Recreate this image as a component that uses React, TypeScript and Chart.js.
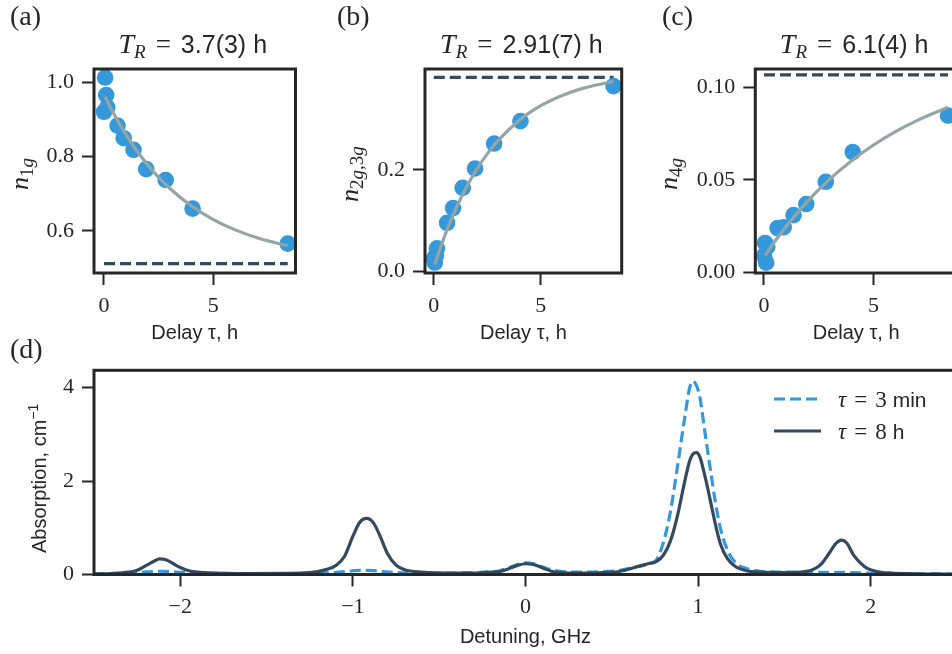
import React, { useEffect, useRef } from 'react';
import { Chart, registerables } from 'chart.js';

Chart.register(...registerables);

// ---------- colours & fonts ----------
const BLUE = '#3498db';
const DARK = '#34495e';
const GRAY = '#95a5a6';
const INK = '#262626';
const SERIF = '"Liberation Serif", "DejaVu Serif", serif';
const SANS = '"Liberation Sans", "DejaVu Sans", sans-serif';

// ---------- data: panels (a)-(c) ----------
const DELAY_H = [0.0, 0.05, 0.1, 0.15, 0.62, 0.9, 1.35, 1.93, 2.82, 4.05, 8.4];
const N_1G = [0.92, 1.012, 0.965, 0.932, 0.883, 0.849, 0.818, 0.766, 0.737, 0.66, 0.566];
const N_2G3G = [0.025, 0.018, 0.032, 0.046, 0.096, 0.125, 0.165, 0.203, 0.252, 0.296, 0.365];
const N_4G = [0.009, 0.016, 0.0054, 0.014, 0.024, 0.0245, 0.031, 0.037, 0.049, 0.065, 0.0847];

const FIT_DELAY_H = [0.05, 0.5, 1, 1.5, 2, 2.5, 3, 4, 5, 6, 7, 8.4];
const FIT_N_1G = [0.9605, 0.9093, 0.8592, 0.8155, 0.7773, 0.7439, 0.7147, 0.667, 0.6306, 0.6028, 0.5816, 0.56];
const FIT_N_2G3G = [0.0146, 0.0693, 0.1208, 0.1642, 0.2009, 0.2316, 0.2576, 0.2979, 0.3264, 0.3466, 0.361, 0.3744];
const FIT_N_4G = [0.0093, 0.0169, 0.0247, 0.0319, 0.0386, 0.0447, 0.0504, 0.0603, 0.0688, 0.076, 0.0821, 0.0892];

const EQ_DELAY_H = [0, 8.4];
const EQ_N_1G = [0.512, 0.512];
const EQ_N_2G3G = [0.382, 0.382];
const EQ_N_4G = [0.1066, 0.1066];

const TR_TEXT = ['3.7(3) h', '2.91(7) h', '6.1(4) h'];

// ---------- data: panel (d) ----------
const DETUNING_GHZ = [
  -2.5, -2.4, -2.3, -2.25, -2.2, -2.15, -2.12, -2.08, -2.04, -2.0, -1.95, -1.9, -1.8, -1.6, -1.4, -1.25,
  -1.15, -1.1, -1.05, -1.0, -0.96, -0.92, -0.88, -0.84, -0.8, -0.75, -0.7, -0.6, -0.45, -0.3, -0.2, -0.15,
  -0.1, -0.05, 0.0, 0.05, 0.1, 0.15, 0.2, 0.3, 0.45, 0.55, 0.65, 0.72, 0.76, 0.8, 0.84, 0.88, 0.92, 0.95,
  0.97, 0.99, 1.01, 1.04, 1.07, 1.1, 1.13, 1.17, 1.22, 1.28, 1.36, 1.5, 1.62, 1.68, 1.72, 1.76, 1.8, 1.83,
  1.86, 1.9, 1.94, 1.98, 2.04, 2.12, 2.25, 2.5,
];
const ABS_3MIN = [
  0.01, 0.015, 0.03, 0.04, 0.055, 0.065, 0.07, 0.065, 0.055, 0.045, 0.035, 0.03, 0.025, 0.02, 0.02, 0.025,
  0.035, 0.045, 0.06, 0.08, 0.09, 0.09, 0.085, 0.07, 0.055, 0.04, 0.035, 0.03, 0.03, 0.04, 0.06, 0.08,
  0.14, 0.21, 0.25, 0.23, 0.16, 0.1, 0.07, 0.05, 0.06, 0.09, 0.17, 0.23, 0.32, 0.7, 1.35, 2.3, 3.3, 3.98,
  4.14, 4.05, 3.8, 3.03, 2.28, 1.55, 0.98, 0.52, 0.24, 0.13, 0.07, 0.05, 0.045, 0.045, 0.045, 0.045, 0.045, 0.045,
  0.045, 0.04, 0.035, 0.03, 0.025, 0.02, 0.015, 0.01,
];
const ABS_8H = [
  0.01, 0.02, 0.05, 0.09, 0.19, 0.29, 0.335, 0.31, 0.23, 0.15, 0.08, 0.05, 0.03, 0.02, 0.025, 0.04,
  0.11, 0.19, 0.38, 0.82, 1.12, 1.2, 1.1, 0.8, 0.45, 0.2, 0.1, 0.05, 0.03, 0.03, 0.05, 0.06,
  0.12, 0.19, 0.23, 0.21, 0.14, 0.07, 0.04, 0.03, 0.04, 0.07, 0.17, 0.24, 0.28, 0.42, 0.72, 1.25, 1.95, 2.42,
  2.58, 2.61, 2.52, 2.1, 1.6, 1.08, 0.65, 0.34, 0.16, 0.08, 0.05, 0.04, 0.06, 0.13, 0.25, 0.46, 0.67, 0.735,
  0.68, 0.42, 0.25, 0.13, 0.06, 0.03, 0.015, 0.005,
];
const LEGEND_LABELS = ['3 min', '8 h'];

// ---------- ticks ----------
const DELAY_TICKS = [0, 5];
const DELAY_TICK_LABELS = ['0', '5'];
const N_1G_TICKS = [0.6, 0.8, 1.0];
const N_1G_TICK_LABELS = ['0.6', '0.8', '1.0'];
const N_2G3G_TICKS = [0, 0.2];
const N_2G3G_TICK_LABELS = ['0.0', '0.2'];
const N_4G_TICKS = [0, 0.05, 0.1];
const N_4G_TICK_LABELS = ['0.00', '0.05', '0.10'];
const DET_TICKS = [-2, -1, 0, 1, 2];
const DET_TICK_LABELS = ['\u22122', '\u22121', '0', '1', '2'];
const ABS_TICKS = [0, 2, 4];
const ABS_TICK_LABELS = ['0', '2', '4'];

// ---------- layout (page px) ----------
// canvas: [left, top, width, height]; frame: [left, top, right, bottom]
const CANVAS_A = [0, 0, 310, 350];
const FRAME_A = [94, 69, 295.5, 273];
const CANVAS_B = [310, 0, 320, 350];
const FRAME_B = [425, 69, 626, 273];
const CANVAS_C = [630, 0, 340, 350];
const FRAME_C = [755.3, 69, 957, 273];
const CANVAS_D = [0, 330, 980, 340];
const FRAME_D = [94, 370.3, 957, 574.5];

type Seg = { t: string; font: string; dx?: number; dy?: number };

function drawSegs(ctx: CanvasRenderingContext2D, segs: Seg[], x: number, y: number, align: 'left' | 'center', rot = 0) {
  ctx.save();
  ctx.translate(x, y);
  if (rot) ctx.rotate(rot);
  ctx.textBaseline = 'alphabetic';
  ctx.textAlign = 'left';
  ctx.fillStyle = INK;
  const widths = segs.map((s) => {
    ctx.font = s.font;
    return ctx.measureText(s.t).width + (s.dx || 0);
  });
  const total = widths.reduce((p, q) => p + q, 0);
  let cx = align === 'center' ? -total / 2 : 0;
  segs.forEach((s, i) => {
    ctx.font = s.font;
    ctx.fillText(s.t, cx + (s.dx || 0), s.dy || 0);
    cx += widths[i];
  });
  ctx.restore();
}

const frame = {
  id: 'frame',
  afterDatasetsDraw(chart: any) {
    const { ctx, chartArea: a } = chart;
    ctx.save();
    ctx.strokeStyle = INK;
    ctx.lineWidth = 3;
    ctx.strokeRect(a.left, a.top, a.right - a.left, a.bottom - a.top);
    ctx.restore();
  },
};

function tickScale(
  min: number, max: number, ticks: number[], labels: string[], fitKey: 'width' | 'height', fitSize: number,
  title?: string, titlePadBottom = 5,
) {
  return {
    type: 'linear',
    min,
    max,
    afterBuildTicks: (s: any) => {
      s.ticks = ticks.map((v) => ({ value: v }));
    },
    afterFit: (s: any) => {
      s[fitKey] = fitSize;
    },
    ticks: {
      autoSkip: false,
      maxRotation: 0,
      minRotation: 0,
      padding: 8,
      color: INK,
      font: { family: SERIF, size: 22 },
      callback: (_v: any, i: number) => labels[i],
    },
    grid: { display: true, drawOnChartArea: false, drawTicks: true, tickLength: 12, tickWidth: 2, tickColor: INK },
    border: { display: false },
    title: title
      ? { display: true, text: title, color: INK, font: { family: SANS, size: 20 }, padding: { top: 0, bottom: titlePadBottom } }
      : { display: false },
  };
}

function baseOptions(canvasBox: number[], frameBox: number[]) {
  return {
    animation: false,
    responsive: false,
    devicePixelRatio: 1,
    events: [],
    layout: {
      padding: {
        left: 0,
        top: frameBox[1] - canvasBox[1],
        right: canvasBox[0] + canvasBox[2] - frameBox[2],
        bottom: 0,
      },
    },
    plugins: { legend: { display: false }, tooltip: { enabled: false }, title: { display: false } },
  };
}

function trTitle(value: string): Seg[] {
  return [
    { t: 'T', font: `italic 28px ${SERIF}` },
    { t: 'R', font: `italic 19px ${SERIF}`, dy: 5 },
    { t: '=', font: `27px ${SERIF}`, dx: 10 },
    { t: value, font: `25px ${SANS}`, dx: 10 },
  ];
}

function smallPanel(
  canvas: HTMLCanvasElement,
  spec: {
    canvasBox: number[]; frameBox: number[]; panel: string; panelX: number; tr: string;
    yLabel: Seg[]; yLabelOffset: number; xMin: number; xMax: number; yMin: number; yMax: number;
    yTicks: number[]; yTickLabels: string[]; values: number[]; fit: number[]; eq: number[];
  },
) {
  const cb = spec.canvasBox;
  const fb = spec.frameBox;
  const annot = {
    id: 'annot',
    afterDraw(chart: any) {
      const { ctx, chartArea: a } = chart;
      drawSegs(ctx, [{ t: spec.panel, font: `28px ${SERIF}` }], spec.panelX, 25, 'left');
      drawSegs(ctx, trTitle(spec.tr), (a.left + a.right) / 2 - 2, a.top - 16, 'center');
      drawSegs(ctx, spec.yLabel, a.left - spec.yLabelOffset, (a.top + a.bottom) / 2 + 3, 'center', -Math.PI / 2);
    },
  };
  return new Chart(canvas, {
    type: 'scatter',
    data: {
      datasets: [
        {
          type: 'line',
          data: FIT_DELAY_H.map((x, i) => ({ x, y: spec.fit[i] })),
          borderColor: GRAY,
          borderWidth: 3.2,
          pointRadius: 0,
          cubicInterpolationMode: 'monotone',
          fill: false,
          order: 0,
        },
        {
          type: 'scatter',
          data: DELAY_H.map((x, i) => ({ x, y: spec.values[i] })),
          pointBackgroundColor: BLUE,
          pointBorderColor: BLUE,
          pointBorderWidth: 0,
          pointRadius: 8.3,
          clip: false,
          order: 1,
        },
        {
          type: 'line',
          data: EQ_DELAY_H.map((x, i) => ({ x, y: spec.eq[i] })),
          borderColor: DARK,
          borderWidth: 3.2,
          borderDash: [11, 5],
          pointRadius: 0,
          fill: false,
          order: 2,
        },
      ],
    } as any,
    options: {
      ...baseOptions(cb, fb),
      scales: {
        x: tickScale(spec.xMin, spec.xMax, DELAY_TICKS, DELAY_TICK_LABELS, 'height', cb[1] + cb[3] - fb[3], 'Delay \u03c4, h', 5),
        y: tickScale(spec.yMin, spec.yMax, spec.yTicks, spec.yTickLabels, 'width', fb[0] - cb[0]),
      },
    } as any,
    plugins: [frame, annot],
  });
}

function spectrumPanel(canvas: HTMLCanvasElement) {
  const cb = CANVAS_D;
  const fb = FRAME_D;
  const annot = {
    id: 'annot',
    afterDraw(chart: any) {
      const { ctx, chartArea: a } = chart;
      drawSegs(ctx, [{ t: '(d)', font: `28px ${SERIF}` }], 10, 28, 'left');
      drawSegs(
        ctx,
        [
          { t: 'Absorption, cm', font: `20px ${SANS}` },
          { t: '\u22121', font: `14px ${SANS}`, dy: -8 },
        ],
        a.left - 48,
        (a.top + a.bottom) / 2 + 6,
        'center',
        -Math.PI / 2,
      );
      const rows = [
        { dash: [11, 5], color: BLUE, label: LEGEND_LABELS[0], dy: 28.7 },
        { dash: [], color: DARK, label: LEGEND_LABELS[1], dy: 60.7 },
      ];
      rows.forEach((r) => {
        const y = a.top + r.dy;
        ctx.save();
        ctx.strokeStyle = r.color;
        ctx.lineWidth = 3.2;
        ctx.setLineDash(r.dash);
        ctx.beginPath();
        ctx.moveTo(a.right - 183, y);
        ctx.lineTo(a.right - 136, y);
        ctx.stroke();
        ctx.restore();
        const [num, unit] = r.label.split(' ');
        drawSegs(
          ctx,
          [
            { t: '\u03c4', font: `italic 23px ${SERIF}` },
            { t: '=', font: `23px ${SERIF}`, dx: 8 },
            { t: num, font: `23px ${SERIF}`, dx: 8 },
            { t: unit, font: `21px ${SANS}`, dx: 6 },
          ],
          a.right - 119,
          y + 8,
          'left',
        );
      });
    },
  };
  return new Chart(canvas, {
    type: 'line',
    data: {
      datasets: [
        {
          label: '\u03c4 = 8 h',
          data: DETUNING_GHZ.map((x, i) => ({ x, y: ABS_8H[i] })),
          borderColor: DARK,
          borderWidth: 3.2,
          pointRadius: 0,
          cubicInterpolationMode: 'monotone',
          fill: false,
          order: 0,
        },
        {
          label: '\u03c4 = 3 min',
          data: DETUNING_GHZ.map((x, i) => ({ x, y: ABS_3MIN[i] })),
          borderColor: BLUE,
          borderWidth: 3.2,
          borderDash: [11, 5],
          pointRadius: 0,
          cubicInterpolationMode: 'monotone',
          fill: false,
          order: 1,
        },
      ],
    } as any,
    options: {
      ...baseOptions(cb, fb),
      scales: {
        x: tickScale(-2.5, 2.5, DET_TICKS, DET_TICK_LABELS, 'height', cb[1] + cb[3] - fb[3], 'Detuning, GHz', 21),
        y: tickScale(0, 4.373, ABS_TICKS, ABS_TICK_LABELS, 'width', fb[0] - cb[0]),
      },
    } as any,
    plugins: [frame, annot],
  });
}

const nLabel = (sub: Seg[]): Seg[] => [{ t: 'n', font: `italic 26px ${SERIF}` }, ...sub];
const subFont = (italic: boolean) => `${italic ? 'italic ' : ''}19px ${SERIF}`;

export default function App() {
  const ra = useRef<HTMLCanvasElement>(null);
  const rb = useRef<HTMLCanvasElement>(null);
  const rc = useRef<HTMLCanvasElement>(null);
  const rd = useRef<HTMLCanvasElement>(null);

  useEffect(() => {
    const charts: Chart[] = [];
    charts.push(
      smallPanel(ra.current!, {
        canvasBox: CANVAS_A, frameBox: FRAME_A, panel: '(a)', panelX: 10, tr: TR_TEXT[0],
        yLabel: nLabel([{ t: '1', font: subFont(false), dy: 5 }, { t: 'g', font: subFont(true), dy: 5 }]),
        yLabelOffset: 66, xMin: -0.457, xMax: 8.756, yMin: 0.487, yMax: 1.035,
        yTicks: N_1G_TICKS, yTickLabels: N_1G_TICK_LABELS, values: N_1G, fit: FIT_N_1G, eq: EQ_N_1G,
      }),
    );
    charts.push(
      smallPanel(rb.current!, {
        canvasBox: CANVAS_B, frameBox: FRAME_B, panel: '(b)', panelX: 27, tr: TR_TEXT[1],
        yLabel: nLabel([
          { t: '2', font: subFont(false), dy: 5 }, { t: 'g', font: subFont(true), dy: 5 },
          { t: ',', font: subFont(false), dy: 5 },
          { t: '3', font: subFont(false), dy: 5 }, { t: 'g', font: subFont(true), dy: 5 },
        ]),
        yLabelOffset: 67, xMin: -0.41, xMax: 8.78, yMin: -0.0026, yMax: 0.3986,
        yTicks: N_2G3G_TICKS, yTickLabels: N_2G3G_TICK_LABELS, values: N_2G3G, fit: FIT_N_2G3G, eq: EQ_N_2G3G,
      }),
    );
    charts.push(
      smallPanel(rc.current!, {
        canvasBox: CANVAS_C, frameBox: FRAME_C, panel: '(c)', panelX: 32, tr: TR_TEXT[2],
        yLabel: nLabel([{ t: '4', font: subFont(false), dy: 5 }, { t: 'g', font: subFont(true), dy: 5 }]),
        yLabelOffset: 78.6, xMin: -0.397, xMax: 8.81, yMin: -0.0002, yMax: 0.1098,
        yTicks: N_4G_TICKS, yTickLabels: N_4G_TICK_LABELS, values: N_4G, fit: FIT_N_4G, eq: EQ_N_4G,
      }),
    );
    charts.push(spectrumPanel(rd.current!));
    return () => charts.forEach((ch) => ch.destroy());
  }, []);

  const cv = (ref: React.RefObject<HTMLCanvasElement>, box: number[]) => (
    <canvas
      ref={ref}
      width={box[2]}
      height={box[3]}
      style={{ position: 'absolute', left: box[0], top: box[1], width: box[2], height: box[3] }}
    />
  );

  return (
    <div style={{ position: 'fixed', left: 0, top: 0, width: 952, height: 654, overflow: 'hidden', background: '#ffffff' }}>
      {cv(ra, CANVAS_A)}
      {cv(rb, CANVAS_B)}
      {cv(rc, CANVAS_C)}
      {cv(rd, CANVAS_D)}
    </div>
  );
}
